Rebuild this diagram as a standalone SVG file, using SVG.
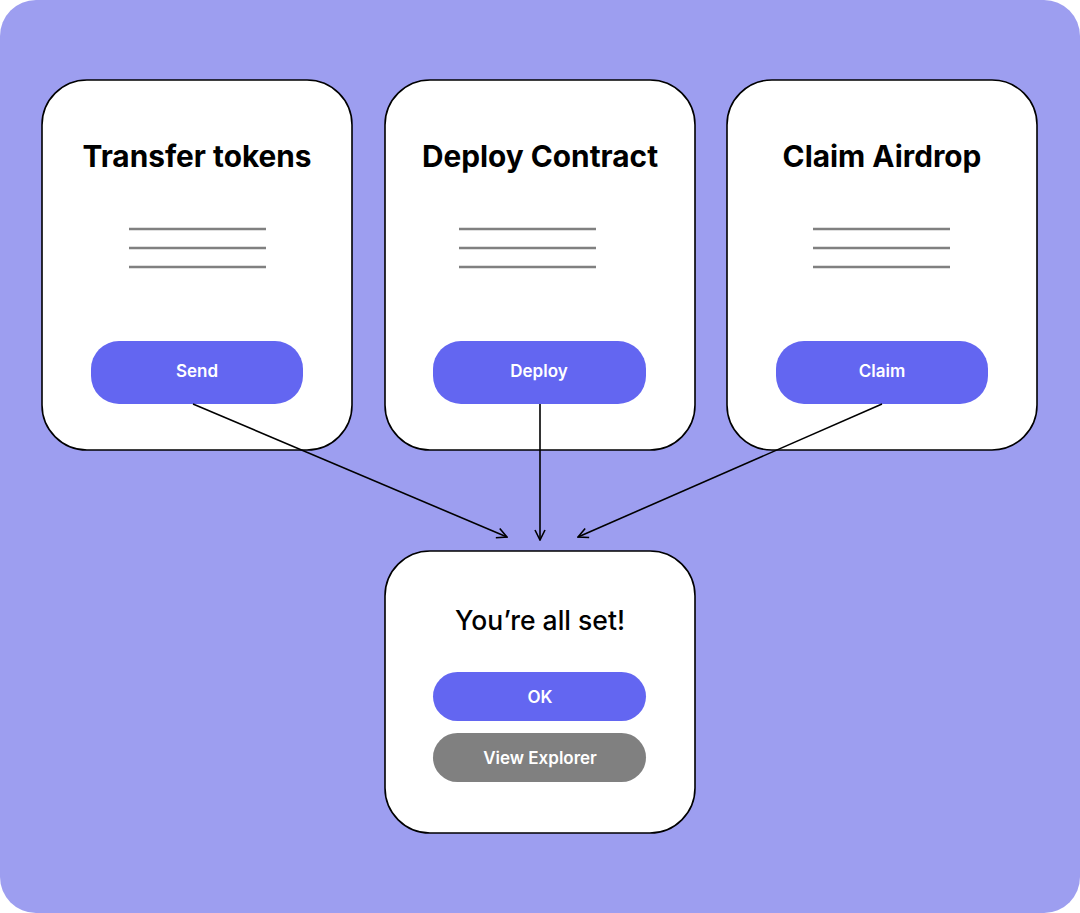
<svg xmlns="http://www.w3.org/2000/svg" width="1080" height="913" viewBox="0 0 1080 913">
<defs>
<marker id="arr" viewBox="0 0 12 12" refX="11" refY="6" markerWidth="12" markerHeight="12" markerUnits="userSpaceOnUse" orient="auto">
<path d="M1,1 L11,6 L1,11" fill="none" stroke="#000" stroke-width="1.6"/>
</marker>
<style>
.card{fill:#fff;stroke:#000;stroke-width:1.6}
.btn{fill:#6366F1}
.gbtn{fill:#808080}
.rule{stroke:#808080;stroke-width:2.5}
.title{font-family:Inter,"Liberation Sans",sans-serif;font-weight:700;font-size:29.8px;fill:#000;text-anchor:middle}
.btxt{font-family:Inter,"Liberation Sans",sans-serif;font-weight:600;font-size:17px;fill:#fff;text-anchor:middle}
.sub{font-family:Inter,"Liberation Sans",sans-serif;font-weight:500;font-size:26.5px;fill:#000;text-anchor:middle}
.conn{stroke:#000;stroke-width:1.6;fill:none;marker-end:url(#arr)}
</style>
</defs>
<rect x="0" y="0" width="1080" height="913" rx="36" fill="#9D9EF0"/>
<g id="transfer">
<rect class="card" x="42" y="80" width="310" height="370" rx="45"/>
<text class="title" x="197" y="167">Transfer tokens</text>
<line class="rule" x1="129" y1="229" x2="266" y2="229"/>
<line class="rule" x1="129" y1="248" x2="266" y2="248"/>
<line class="rule" x1="129" y1="267" x2="266" y2="267"/>
<rect class="btn" x="91" y="341" width="212" height="63" rx="28"/>
<text class="btxt" x="197" y="377">Send</text>
</g>
<g id="deploy">
<rect class="card" x="385" y="80" width="310" height="370" rx="45"/>
<text class="title" x="540" y="167">Deploy Contract</text>
<line class="rule" x1="459" y1="229" x2="596" y2="229"/>
<line class="rule" x1="459" y1="248" x2="596" y2="248"/>
<line class="rule" x1="459" y1="267" x2="596" y2="267"/>
<rect class="btn" x="433" y="341" width="213" height="63" rx="28"/>
<text class="btxt" x="539" y="377">Deploy</text>
</g>
<g id="claim">
<rect class="card" x="727" y="80" width="310" height="370" rx="45"/>
<text class="title" x="882" y="167">Claim Airdrop</text>
<line class="rule" x1="813" y1="229" x2="950" y2="229"/>
<line class="rule" x1="813" y1="248" x2="950" y2="248"/>
<line class="rule" x1="813" y1="267" x2="950" y2="267"/>
<rect class="btn" x="776" y="341" width="212" height="63" rx="28"/>
<text class="btxt" x="882" y="377">Claim</text>
</g>
<g id="done">
<rect class="card" x="385" y="551" width="310" height="282" rx="45"/>
<text class="sub" x="540" y="630">You’re all set!</text>
<rect class="btn" x="433" y="672" width="213" height="49" rx="24.5"/>
<text class="btxt" x="540" y="703">OK</text>
<rect class="gbtn" x="433" y="733" width="213" height="49" rx="24.5"/>
<text class="btxt" x="540" y="764">View Explorer</text>
</g>
<g id="connectors">
<line class="conn" x1="193" y1="404" x2="507" y2="537"/>
<line class="conn" x1="540" y1="404" x2="540" y2="540"/>
<line class="conn" x1="882" y1="404" x2="578" y2="537"/>
</g>
</svg>
